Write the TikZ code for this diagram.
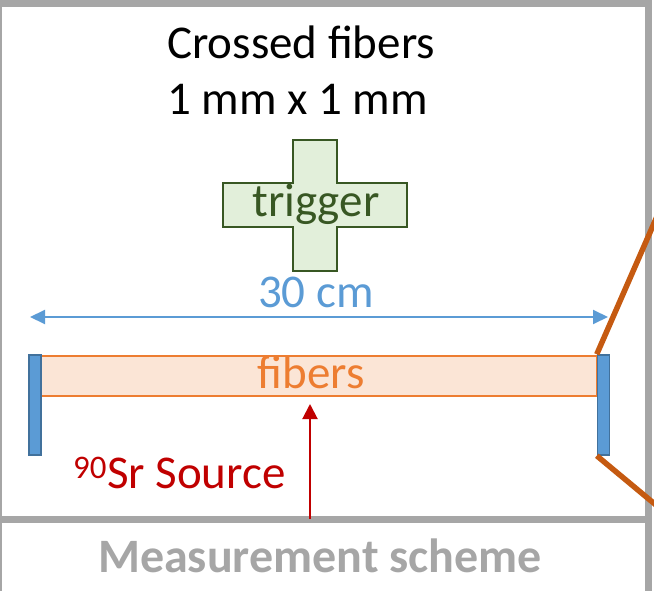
\documentclass[tikz,border=0pt]{standalone}
\usepackage{fontspec}
\setmainfont{Carlito}
\usetikzlibrary{positioning, arrows.meta}

\definecolor{framegray}{HTML}{A6A6A6}
\definecolor{trigfill}{HTML}{E2EFDA}
\definecolor{triggreen}{HTML}{385723}
\definecolor{dimblue}{HTML}{5B9BD5}
\definecolor{barblue}{HTML}{41719C}
\definecolor{fibfill}{HTML}{FBE5D6}
\definecolor{fiborange}{HTML}{ED7D31}
\definecolor{cableorange}{HTML}{C55A11}
\definecolor{srcred}{HTML}{C00000}

\begin{document}
\begin{tikzpicture}[x=1pt,y=-1pt]
\tikzstyle{every node}=[font=\fontsize{47}{56}\selectfont, inner sep=0pt]
\tikzstyle{panel}=[draw=framegray, line width=7pt]
\tikzstyle{crossbar}=[draw=triggreen, fill=trigfill, line width=2pt]
\tikzstyle{holder}=[draw=barblue, fill=dimblue, line width=1.5pt, minimum width=12pt, minimum height=100pt]
\tikzstyle{fiberbox}=[draw=fiborange, fill=fibfill, line width=2pt, minimum width=556pt, minimum height=40pt]
\tikzstyle{cable}=[draw=cableorange, line width=5.5pt]
\tikzstyle{dimline}=[draw=dimblue, line width=2pt, {Triangle[width=14pt,length=15pt]}-{Triangle[width=14pt,length=15pt]}]
\tikzstyle{beam}=[draw=srcred, line width=2pt, -{Triangle[width=15pt,length=15pt]}]

\useasboundingbox (0,0) rectangle (654,591);

% frames
\draw[panel] (-1.5,4) rectangle (648.5,519);
\draw[panel] (-1.5,519) rectangle (648.5,620);

% title
\node[anchor=base west] (title) at (167,59) {Crossed fibers};
\node[anchor=base west] (size) at (167,115) {1 mm x 1 mm};

% trigger cross
\draw[crossbar] (293,140) -- (337,140) -- (337,183) -- (407,183) -- (407,227)
  -- (337,227) -- (337,271) -- (293,271) -- (293,227) -- (223,227)
  -- (223,183) -- (293,183) -- cycle;
\node[anchor=base, text=triggreen] (trig) at (316,217) {trigger};

% length
\coordinate (dimL) at (30,317);
\coordinate (dimR) at (608,317);
\draw[dimline] (dimL) -- (dimR);
\node[anchor=base, text=dimblue] (len) at (316,307) {30 cm};

% fibers and holders
\node[fiberbox] (fib) at (319,376) {};
\node[anchor=base, text=fiborange] (fiblabel) at (311,388) {fibers};
\node[holder] (holdL) at (35,405) {};
\node[holder] (holdR) at (603.5,405) {};

% cables
\coordinate (cabTop) at (662,205);
\coordinate (cabBot) at (680,525);
\draw[cable] (holdR.north west) -- (cabTop);
\draw[cable] (holdR.south west) -- (cabBot);

% source
\coordinate (src) at (310,519);
\coordinate (hit) at (310,404);
\draw[beam] (src) -- (hit);
\node[anchor=base west, text=srcred] (srclabel) at (73,488) {\textsuperscript{90}Sr Source};

% caption
\node[anchor=base, text=framegray, font=\fontsize{48}{56}\selectfont\bfseries] (caption) at (320,572) {Measurement scheme};
\end{tikzpicture}
\end{document}
